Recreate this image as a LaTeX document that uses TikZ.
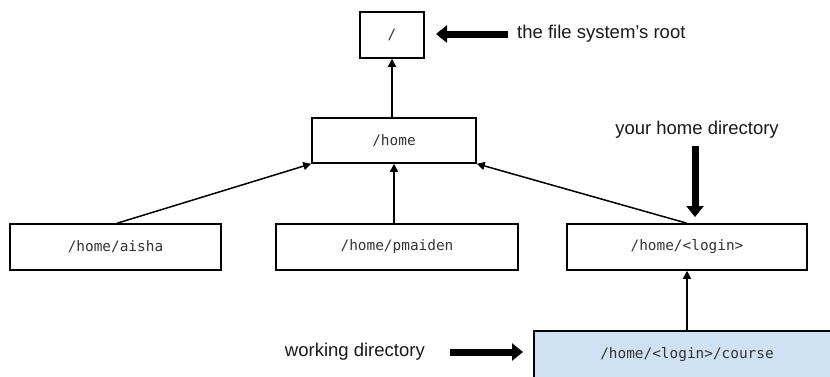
\documentclass[tikz,border=0pt]{standalone}
\usepackage{fontspec}
\setmainfont{Liberation Sans}
\newfontfamily\monofont{DejaVu Sans Mono}
\usetikzlibrary{arrows.meta}
\definecolor{boxblue}{HTML}{CFE2F3}
\definecolor{txtgray}{HTML}{333333}
\begin{document}
\begin{tikzpicture}[x=1pt,y=-1pt,
  dirbox/.style={draw=black,line width=1.5pt,minimum width=#1,minimum height=46pt,inner sep=0pt,
    font=\monofont\fontsize{14.4}{17}\selectfont,text=txtgray},
  link/.style={line width=1.5pt,-{Triangle[length=8pt,width=8pt]}},
  bigarrow/.style={line width=7pt,-{Triangle[length=11pt,width=17pt]}},
  lbl/.style={font=\fontsize{18.5}{22}\selectfont,inner sep=0pt,text=black!90}]
\clip (0,0) rectangle (830,376);
\fill[white] (0,0) rectangle (830,376);
\node[dirbox=64pt] (root) at (392,35) {/};
\node[dirbox=164pt,minimum height=45pt] (home) at (394,140.5) {/home};
\node[dirbox=211pt] (aisha) at (115.5,247) {/home/aisha};
\node[dirbox=242pt] (pmaiden) at (397,247) {/home/pmaiden};
\node[dirbox=240pt] (login) at (687,247) {/home/<login>};
\node[dirbox=306pt,minimum height=48pt,fill=boxblue] (course) at (687,355) {/home/<login>/course};
\draw[link] (home.north -| root) -- (root.south);
\draw[link] (aisha.north -| 117,0) -- (home.south west);
\draw[link] (pmaiden.north -| home) -- (home.south);
\draw[link] (login.north) -- (home.south east);
\draw[link] (course.north) -- (login.south);
\node[lbl,anchor=west] (rootlbl) at (517,34) {the file system’s root};
\coordinate (roottail) at (508,34);
\coordinate (roottip) at (436,34);
\draw[bigarrow] (roottail) -- (roottip);
\node[lbl] (homelbl) at (697,130) {your home directory};
\coordinate (hometail) at (695,146);
\coordinate (hometip) at (695,217);
\draw[bigarrow] (hometail) -- (hometip);
\node[lbl,anchor=east] (worklbl) at (425,352) {working directory};
\coordinate (worktail) at (450,352);
\coordinate (worktip) at (523,352);
\draw[bigarrow] (worktail) -- (worktip);
\end{tikzpicture}
\end{document}
